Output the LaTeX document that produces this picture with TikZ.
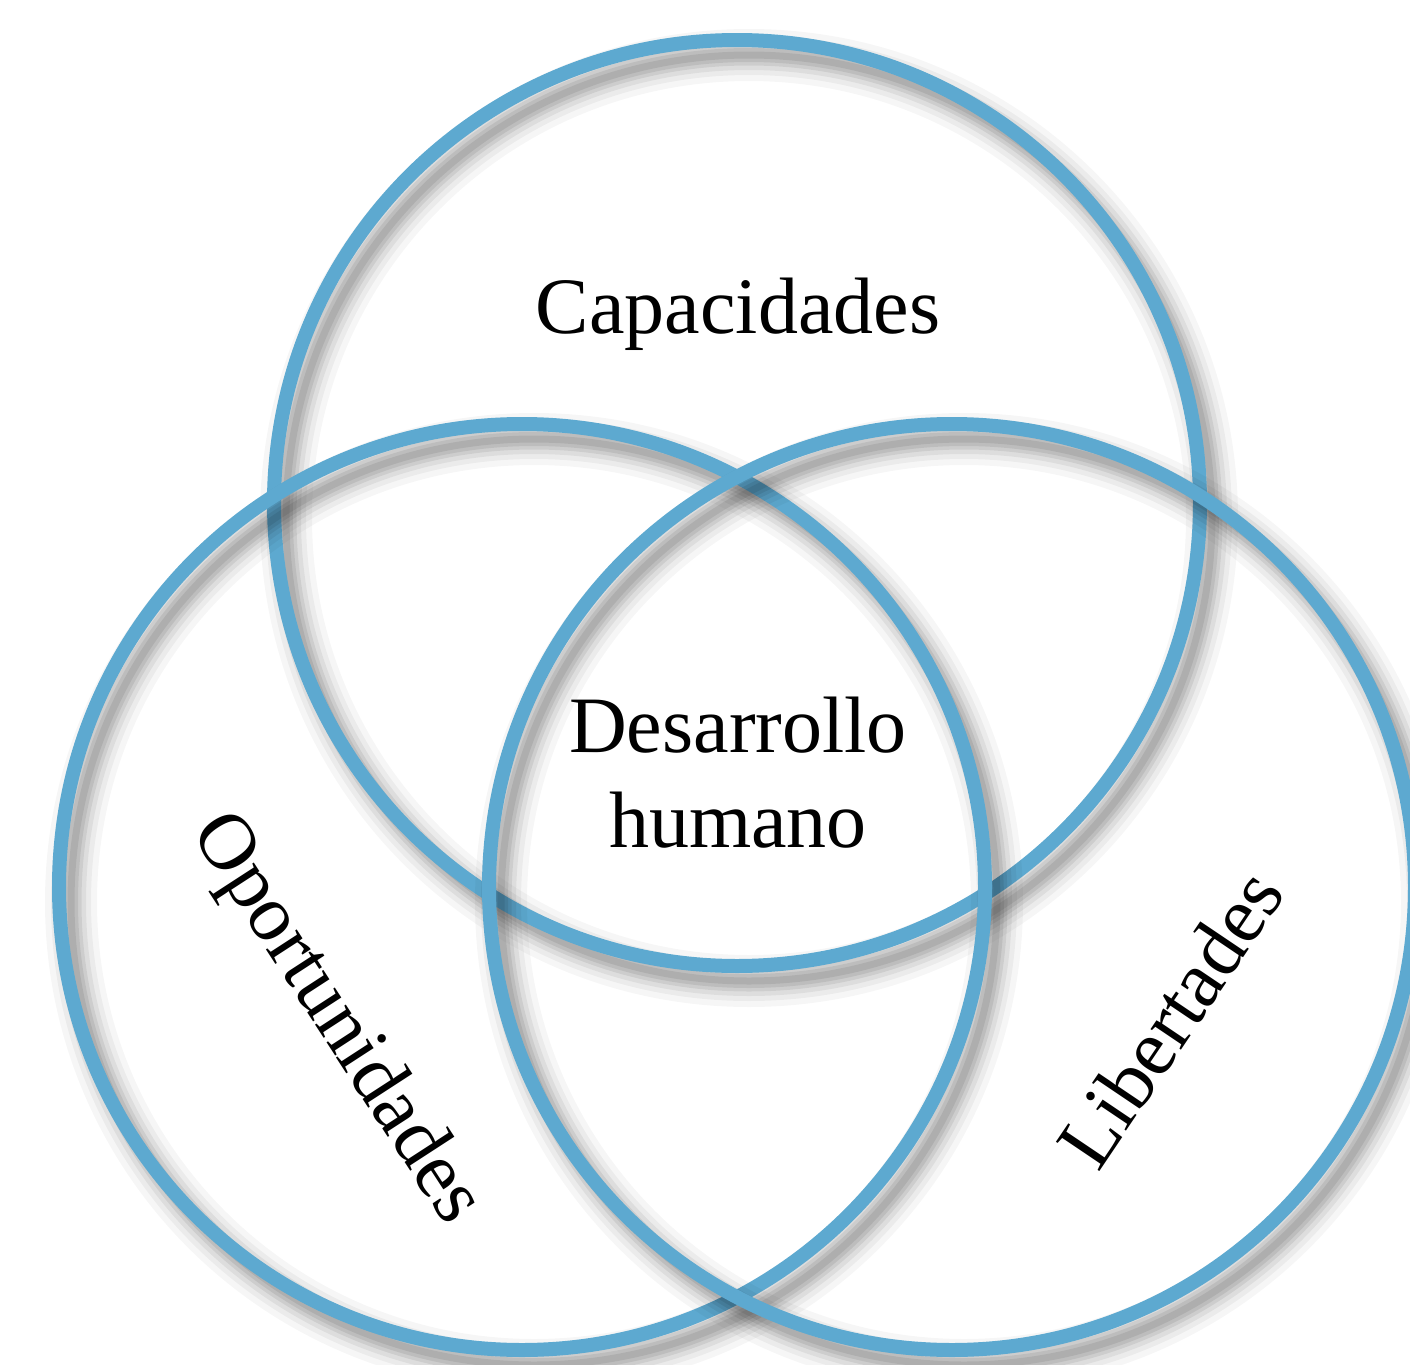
\documentclass[tikz,border=0pt]{standalone}
\usepackage{fontspec}
\setmainfont{Liberation Serif}
\definecolor{ringblue}{RGB}{93,169,208}
\tikzset{
  ring/.style={draw=ringblue, line width=7pt},
  ringshadow/.style={draw=black, line width=#1},
  label/.style={font=\fontsize{40}{47.5}\selectfont, text=black, inner sep=0pt, align=center}
}
\begin{document}
\begin{tikzpicture}[x=0.5pt,y=-0.5pt]
\useasboundingbox (0,0) rectangle (1410,1365);
\clip (0,0) rectangle (1410,1365);
\coordinate (ct) at (737,503);
\coordinate (cl) at (522,887);
\coordinate (cr) at (952,887);
\foreach \c in {ct,cl,cr} {
  \foreach \w/\o in {26pt/0.035,20pt/0.045,15pt/0.06,10.5pt/0.07,7pt/0.08,3.5pt/0.08}
    \draw[ringshadow=\w, opacity=\o] ([shift={(12,15)}]\c) circle[radius=231.5pt];
  \draw[ring] (\c) circle[radius=231.5pt];
}
\node[label, anchor=base] (cap) at (738,333) {Capacidades};
\node[label, anchor=base] (des) at (738,752) {Desarrollo};
\node[label, anchor=base] (hum) at (738,847) {humano};
\node[label, rotate=-57] (opo) at (335,1020) {Oportunidades};
\node[label, rotate=56] (lib) at (1170,1018) {Libertades};
\end{tikzpicture}
\end{document}
